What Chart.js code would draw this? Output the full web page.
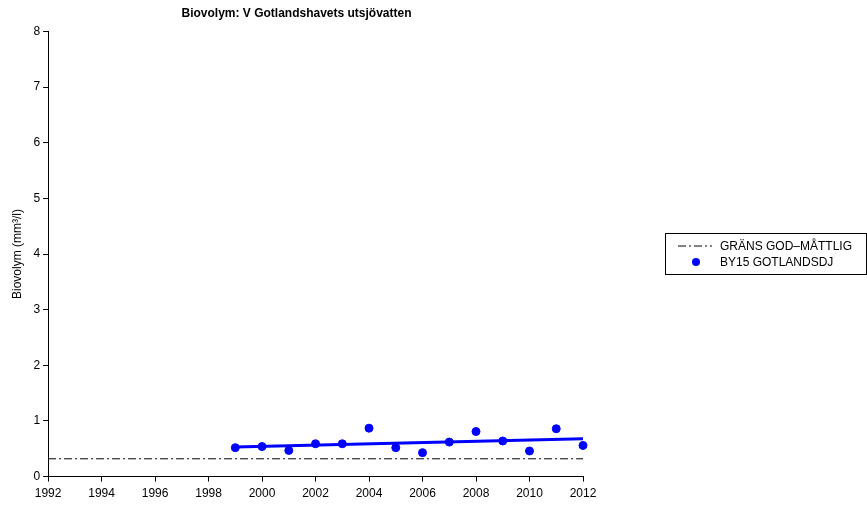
<!DOCTYPE html>
<html>
<head>
<meta charset="utf-8">
<script src="https://cdn.jsdelivr.net/npm/chart.js@4.4.0/dist/chart.umd.min.js"></script>
<style>
  body { margin: 0; background: #fff; }
  #wrap { position: relative; width: 867px; height: 506px; }
  #legend {
    position: absolute; left: 665px; top: 233px; width: 202px; height: 42px;
    border: 1px solid #000; box-sizing: border-box;
    font-family: "Liberation Sans", Arial, sans-serif; font-size: 12px; color: #000;
  }
  #legend div { position: absolute; left: 0; height: 14px; line-height: 14px; white-space: nowrap; }
  #legend span { position: absolute; left: 54px; }
</style>
</head>
<body>
<div id="wrap">
  <canvas id="bioChart" width="867" height="506"></canvas>
  <div id="legend">
    <div style="top:5px;">
      <svg width="50" height="14" style="position:absolute;left:0;top:0"><line x1="12" y1="7" x2="46" y2="7" stroke="#000" stroke-width="1" stroke-dasharray="8,3,2,3"/></svg>
      <span>GRÄNS GOD–MÅTTLIG</span>
    </div>
    <div style="top:21px;">
      <svg width="50" height="14" style="position:absolute;left:0;top:0"><circle cx="30" cy="7" r="4" fill="#0000ff"/></svg>
      <span>BY15 GOTLANDSDJ</span>
    </div>
  </div>
</div>
<script>
// data
var years = [1999, 2000, 2001, 2002, 2003, 2004, 2005, 2006, 2007, 2008, 2009, 2010, 2011, 2012];
var biovolym = [0.52, 0.54, 0.47, 0.59, 0.59, 0.87, 0.52, 0.43, 0.62, 0.81, 0.64, 0.46, 0.86, 0.56];
var limitYears = [1992, 2012];
var limitValue = 0.32;
var trendYears = [1999, 2012];
var trendValues = [0.53, 0.68];
var yTicks = [0, 1, 2, 3, 4, 5, 6, 7, 8];
var xTicks = [1992, 1994, 1996, 1998, 2000, 2002, 2004, 2006, 2008, 2010, 2012];

function plotBiovolym() {
  var pts = years.map(function (y, i) { return { x: y, y: biovolym[i] }; });
  var limit = limitYears.map(function (y) { return { x: y, y: limitValue }; });
  var trend = trendYears.map(function (y, i) { return { x: y, y: trendValues[i] }; });

  var fontFam = '"Liberation Sans", Arial, sans-serif';

  var data = {
    datasets: [{
      type: 'line',
      label: 'GRÄNS GOD–MÅTTLIG',
      data: limit,
      borderColor: '#000',
      borderWidth: 1,
      borderDash: [8, 3, 2, 3],
      pointRadius: 0,
      fill: false
    }, {
      type: 'line',
      label: 'trend',
      data: trend,
      borderColor: '#0000ff',
      borderWidth: 3,
      pointRadius: 0,
      fill: false,
      clip: false
    }, {
      type: 'scatter',
      label: 'BY15 GOTLANDSDJ',
      data: pts,
      backgroundColor: '#0000ff',
      borderColor: '#0000ff',
      pointRadius: 4,
      pointHoverRadius: 4,
      clip: false
    }]
  };

  var options = {
    responsive: false,
    animation: false,
    layout: { padding: { left: 10, right: 284, top: 3, bottom: 0 } },
    plugins: {
      legend: { display: false },
      tooltip: { enabled: false },
      title: {
        display: true,
        text: 'Biovolym: V Gotlandshavets utsjövatten',
        color: '#000',
        font: { family: fontFam, size: 12, weight: 'bold' },
        padding: { top: 3, bottom: 11 }
      }
    },
    scales: {
      x: {
        type: 'linear',
        min: 1992,
        max: 2012,
        afterBuildTicks: function (axis) { axis.ticks = xTicks.map(function (v) { return { value: v }; }); },
        ticks: {
          color: '#000',
          font: { family: fontFam, size: 12 },
          maxRotation: 0,
          padding: 5,
          callback: function (v) { return String(v); }
        },
        grid: { drawOnChartArea: false, drawTicks: true, tickLength: 5, color: '#000' },
        border: { display: true, color: '#000', width: 1 }
      },
      y: {
        min: 0,
        max: 8,
        afterBuildTicks: function (axis) { axis.ticks = yTicks.map(function (v) { return { value: v }; }); },
        ticks: {
          color: '#000',
          font: { family: fontFam, size: 12 },
          padding: 3
        },
        grid: { drawOnChartArea: false, drawTicks: true, tickLength: 5, color: '#000' },
        border: { display: true, color: '#000', width: 1 },
        title: {
          display: true,
          text: 'Biovolym (mm³/l)',
          color: '#000',
          font: { family: fontFam, size: 12 },
          padding: { top: 0, bottom: 6 }
        }
      }
    }
  };

  var ctx = document.getElementById('bioChart');
  return new Chart(ctx, { data: data, options: options });
}

window.bioChart = plotBiovolym();
</script>
</body>
</html>
